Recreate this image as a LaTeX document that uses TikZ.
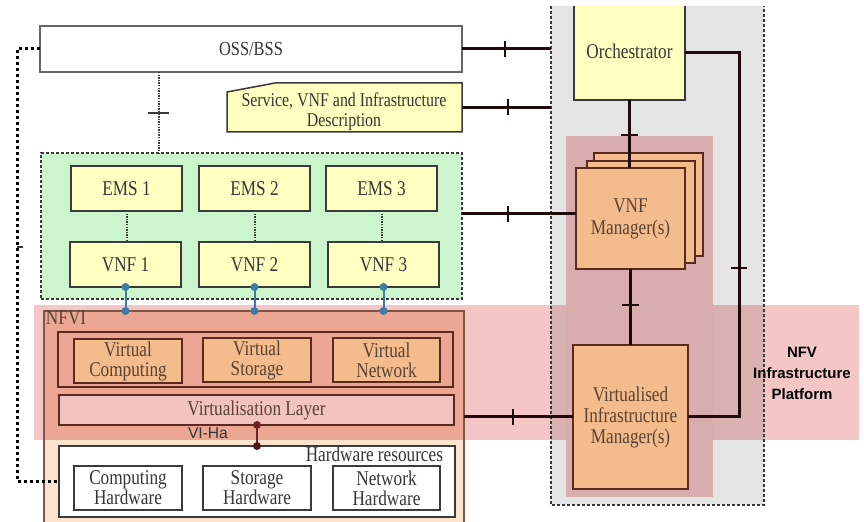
\documentclass[tikz,border=0pt]{standalone}
\usepackage{fontspec}
\setmainfont{Liberation Serif}[FakeStretch=0.82]
\setsansfont{Liberation Sans}
\usetikzlibrary{calc}

\definecolor{ylw}{HTML}{FFFFC2}
\definecolor{grn}{HTML}{CDF5CD}
\definecolor{mgray}{HTML}{E4E4E4}
\definecolor{bandc}{HTML}{F4C6C6}
\definecolor{bandgray}{HTML}{DAB1B1}
\definecolor{manopink}{HTML}{D9ADAD}
\definecolor{salmon}{HTML}{EBA794}
\definecolor{peach}{HTML}{FBE3CD}
\definecolor{orng}{HTML}{F4BB8C}
\definecolor{vlayerc}{HTML}{F2C3C0}
\definecolor{brn}{HTML}{5C2A1C}
\definecolor{txt}{HTML}{363636}
\definecolor{btxt}{HTML}{5A4232}
\definecolor{blu}{HTML}{3E7BA6}
\definecolor{vired}{HTML}{6E2222}
\definecolor{dkline}{HTML}{1E0A0A}
\definecolor{bord}{HTML}{3A3A3A}

% box node given by its corner coordinates (in pixel units)
\newcommand\areanode[7]{%
  \node[#1,minimum width={(#5-#3)*0.5pt},minimum height={(#6-#4)*0.5pt}]
    (#2) at ({(#3+#5)/2},{(#4+#6)/2}) {#7};}

\begin{document}
\begin{tikzpicture}[x=0.5pt,y=-0.5pt,
  base/.style={inner sep=0pt,outer sep=0pt,align=center,text=txt},
  boxfont/.style={font=\fontsize{10.5}{10}\selectfont},
  ybox/.style={base,boxfont,draw=bord,line width=0.75pt,fill=ylw},
  obox/.style={base,boxfont,draw=brn,line width=0.75pt,fill=orng,text=btxt},
  wbox/.style={base,boxfont,draw=bord,line width=0.75pt,fill=white},
  lbl/.style={base,boxfont},
  conn/.style={line width=1.5pt,dkline},
  tk/.style={line width=0.6pt,dkline},
  finedot/.style={line width=1pt,bord,dash pattern=on 0.7pt off 0.6pt},
  thickdot/.style={line width=1.5pt,black,dash pattern=on 1.5pt off 1.5pt},
  mgdash/.style={line width=0.6pt,bord,dash pattern=on 1.5pt off 1pt},
  bluec/.style={line width=1pt,blu},
  vic/.style={line width=1pt,vired}]
\useasboundingbox (0,0) rectangle (864,522);

% management column, infrastructure band and MANO area
\areanode{base,fill=mgray}{mano}{551}{6}{764}{505}{}
\areanode{base,fill=bandc}{nfvip}{34}{305}{859}{440}{}
\fill[bandgray] (mano.west |- nfvip.north) rectangle (mano.east |- nfvip.south);
\areanode{base,fill=manopink}{manobg}{566}{136}{713}{497}{}
\draw[mgdash] (mano.north west) -- (mano.south west) -- (mano.south east) -- (mano.north east);
\node[base,text=black,font=\sffamily\bfseries\fontsize{7.5}{10.5}\selectfont] (nfvlbl) at (802,373)
  {NFV\\Infrastructure\\Platform};

% NFVI
\areanode{base}{nfvi}{44}{311}{464}{526}{}
\fill[salmon] (nfvi.north west) rectangle (nfvi.east |- nfvip.south);
\fill[peach] (nfvi.west |- nfvip.south) rectangle (nfvi.south east);
\draw[line width=0.75pt,brn!80] (nfvi.south west) -- (nfvi.north west) -- (nfvi.north east) -- (nfvi.south east);
\node[lbl,anchor=base west,text=btxt] (nfvilbl) at (46,325) {NFVI};

\areanode{base,draw=brn,line width=0.75pt}{vres}{58}{332}{453}{387}{}
\areanode{obox}{vc}{74}{339}{182}{383}{Virtual\\Computing}
\areanode{obox}{vs}{203}{338}{311}{382}{Virtual\\Storage}
\areanode{obox}{vn}{333}{338}{440}{382}{Virtual\\Network}
\areanode{obox,fill=vlayerc}{vlayer}{59}{395}{454}{425}{Virtualisation Layer}

\areanode{wbox}{hw}{59}{446}{455}{517}{}
\node[lbl,anchor=base east] (hwlbl) at (443,462) {Hardware resources};
\areanode{wbox}{ch}{74}{466}{182}{510}{Computing\\Hardware}
\areanode{wbox}{sh}{203}{466}{311}{510}{Storage\\Hardware}
\areanode{wbox}{nh}{333}{466}{440}{510}{Network\\Hardware}

% OSS/BSS and descriptions
\areanode{wbox,draw=black!60,font=\fontsize{10}{10}\selectfont}{oss}{40}{26}{462}{72}{OSS/BSS}
\areanode{base}{desc}{227}{83}{462}{132}{}
\filldraw[fill=ylw,draw=bord,line width=0.75pt] (desc.south west) -- ($(desc.north west)+(0,9)$)
  -- ($(desc.north west)+(48,0)$) -- (desc.north east) -- (desc.south east) -- cycle;
\node[base,font=\fontsize{9.7}{10}\selectfont] (desctext) at (344,112)
  {Service, VNF and Infrastructure\\Description};

% VNF domain
\areanode{base,fill=grn,draw=bord,line width=0.6pt,dash pattern=on 1.5pt off 1pt}{vnfs}{41}{153}{462}{299}{}
\areanode{ybox}{ems1}{71}{166}{182}{211}{EMS 1}
\areanode{ybox}{ems2}{199}{166}{310}{211}{EMS 2}
\areanode{ybox}{ems3}{326}{166}{437}{211}{EMS 3}
\areanode{ybox}{vnf1}{70}{242}{181}{287}{VNF 1}
\areanode{ybox}{vnf2}{199}{242}{310}{287}{VNF 2}
\areanode{ybox}{vnf3}{328}{242}{439}{287}{VNF 3}

% MANO blocks
\areanode{base,boxfont,fill=ylw}{orch}{574}{6}{685}{100}{\raisebox{1.5pt}{Orchestrator}}
\draw[bord,line width=0.75pt] (orch.north west) -- (orch.south west) -- (orch.south east) -- (orch.north east);
\areanode{obox}{vnfmb}{594}{153}{703}{256}{}
\areanode{obox}{vnfmm}{587}{161}{695}{263}{}
\areanode{obox,font=\fontsize{10.5}{11}\selectfont}{vnfm}{576}{168}{685}{269}{VNF\\Manager(s)}
\areanode{obox,font=\fontsize{10.5}{10.5}\selectfont}{vim}{573}{345}{688}{489}{Virtualised\\Infrastructure\\Manager(s)}

% reference points
\coordinate (vlvl) at (0,214);
\coordinate (rcol) at (739,0);
\coordinate (lcol) at (17,0);
\coordinate (ocol) at (159,0);
\coordinate (vicol) at (257,0);

% reference points (solid)
\draw[conn] (oss.east) -- (oss.east -| mano.west);
\draw[tk] (505,41) -- (505,57);
\draw[conn] (desc.east) -- (desc.east -| mano.west);
\draw[tk] (508,99) -- (508,115);
\draw[conn] (vnfs.east |- vlvl) -- (vnfm.west |- vlvl);
\draw[tk] (508,206) -- (508,222);
\draw[conn] (orch.south) -- (orch.south |- vnfm.north);
\draw[tk] (621,135) -- (638,135);
\draw[conn] (vnfm.south) -- (vim.north);
\draw[tk] (622,305) -- (639,305);
\draw[conn] (orch.east) -| (rcol |- vim.east) -- (vim.east);
\draw[tk] (731,268) -- (747,268);
\draw[conn] (vim.west) -- (vim.west -| nfvi.east);
\draw[tk] (513,409) -- (513,425);

% dotted management links
\draw[thickdot] (oss.west) -| (lcol |- hw.west) -- (hw.west);
\draw[tk,bord] (17,247) -- (23,247);
\draw[finedot] (ocol |- oss.south) -- (ocol |- vnfs.north);
\draw[line width=1pt,bord] (148,113) -- (169,113);
\foreach \i in {1,2,3}{
  \draw[finedot] (ems\i.south) -- (ems\i.south |- vnf\i.north);
  \draw[bluec] (vnf\i.south) -- (vnf\i.south |- nfvi.north);
  \fill[blu] (vnf\i.south) circle[radius=2pt];
  \fill[blu] (vnf\i.south |- nfvi.north) circle[radius=2pt];
}

% Vi-Ha
\draw[vic] (vicol |- vlayer.south) -- (vicol |- hw.north);
\fill[vired] (vicol |- vlayer.south) circle[radius=2pt];
\fill[vired!70!black] (vicol |- hw.north) circle[radius=2pt];
\node[base,anchor=base west,font=\sffamily\fontsize{7.8}{9}\selectfont] (vihalbl) at (188,439) {VI-Ha};
\end{tikzpicture}
\end{document}
